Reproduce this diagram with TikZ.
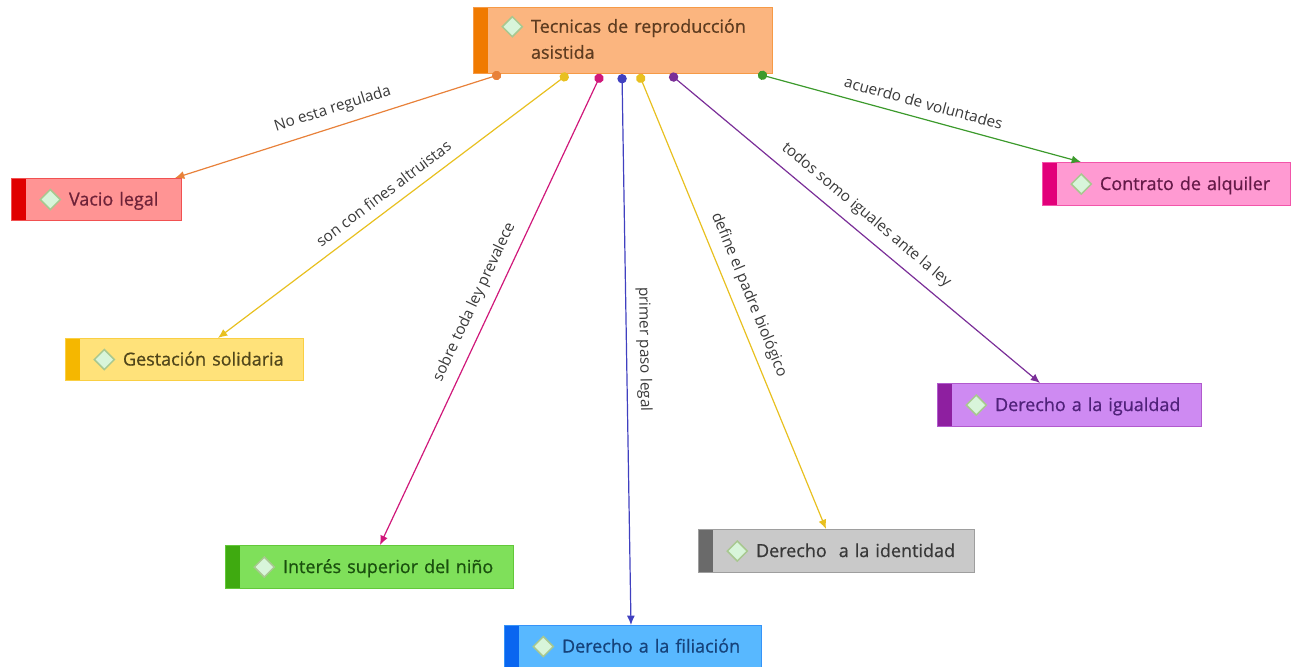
\documentclass[tikz,border=0pt]{standalone}
\usepackage{fontspec}
\setmainfont{Open Sans}
\newfontfamily\semifont[FakeBold=0.7]{Open Sans}
\usetikzlibrary{arrows.meta}

\definecolor{topFill}{HTML}{FBB57F}\definecolor{topBar}{HTML}{F07A00}\definecolor{topText}{HTML}{5E3C20}
\definecolor{vacFill}{HTML}{FF9494}\definecolor{vacBar}{HTML}{E00000}\definecolor{vacText}{HTML}{6E2238}
\definecolor{conFill}{HTML}{FF9AD2}\definecolor{conBar}{HTML}{E2007A}\definecolor{conText}{HTML}{641A48}
\definecolor{gesFill}{HTML}{FFE27A}\definecolor{gesBar}{HTML}{F5B700}\definecolor{gesText}{HTML}{50461A}
\definecolor{iguFill}{HTML}{CE8AF2}\definecolor{iguBar}{HTML}{8E1FA0}\definecolor{iguText}{HTML}{50227A}
\definecolor{intFill}{HTML}{7FE05A}\definecolor{intBar}{HTML}{3FAA10}\definecolor{intText}{HTML}{1A500E}
\definecolor{filFill}{HTML}{58B8FF}\definecolor{filBar}{HTML}{0A66F0}\definecolor{filText}{HTML}{16427A}
\definecolor{ideFill}{HTML}{C9C9C9}\definecolor{ideBar}{HTML}{6A6A6A}\definecolor{ideText}{HTML}{383838}
\definecolor{icoFill}{HTML}{D8F5DA}\definecolor{icoLine}{HTML}{A8C890}
\definecolor{lblText}{HTML}{3A3A3A}
\definecolor{orLine}{HTML}{E8813A}\definecolor{goLine}{HTML}{E8C020}
\definecolor{maLine}{HTML}{D0187A}\definecolor{blLine}{HTML}{4040C0}
\definecolor{puLine}{HTML}{7A2E98}\definecolor{grLine}{HTML}{3C9A2C}

\newcommand\ico{\tikz[baseline=-4.5pt]\draw[draw=icoLine,fill=icoFill,line width=1.1pt]
  (0pt,7.5pt)--(7.5pt,0pt)--(0pt,-7.5pt)--(-7.5pt,0pt)--cycle;}
\newcommand\cpt[1]{\hspace*{21pt}\ico\hspace{6pt}#1}

\tikzset{
  concept/.style={anchor=north west, inner sep=0pt, align=left,
    fill=#1Fill, draw=#1Bar!45!#1Fill, text=#1Text, line width=0.8pt,
    font=\semifont\fontsize{13.5}{19.5}\selectfont,
    path picture={\fill[#1Bar] (path picture bounding box.north west)
      rectangle ([xshift=11pt]path picture bounding box.south west);}},
  link/.style={draw=#1, line width=0.9pt, {Circle[length=7pt]}-{Latex[length=7pt,width=6pt]}},
  lbl/.style={sloped, above=6pt, inner sep=1pt, text=lblText,
    font=\fontsize{11.5}{13}\selectfont}
}

\begin{document}
\begin{tikzpicture}[x=0.75pt,y=-0.75pt]
  \useasboundingbox (0,0) rectangle (1300,667);
  \node[concept=top, text width=224.25pt, minimum height=49.5pt] (tra) at (473,7)
    {\cpt{\begin{tabular}[t]{@{}l@{}}Tecnicas de reproducción\\asistida\end{tabular}}};
  \node[concept=vac, text width=127.5pt, minimum height=31.5pt] (vac) at (11,178) {\cpt{Vacio legal}};
  \node[concept=con, text width=186pt, minimum height=32.25pt] (con) at (1042,162) {\cpt{Contrato de alquiler}};
  \node[concept=ges, text width=178.5pt, minimum height=31.5pt] (ges) at (65,338) {\cpt{Gestación solidaria}};
  \node[concept=igu, text width=198pt, minimum height=32.25pt] (igu) at (937,383) {\cpt{Derecho a la igualdad}};
  \node[concept=int, text width=216pt, minimum height=32.25pt] (int) at (225,545) {\cpt{Interés superior del niño}};
  \node[concept=fil, text width=192.75pt, minimum height=31.5pt] (fil) at (504,625) {\cpt{Derecho a la filiación}};
  \node[concept=ide, text width=207pt, minimum height=32.25pt] (ide) at (698,529) {\cpt{Derecho\ \ a la identidad}};

  % start points on the lower edge of the main concept
  \coordinate (sVac) at ([xshift=21pt]tra.south west);
  \coordinate (sGes) at ([xshift=71.25pt]tra.south west);
  \coordinate (sInt) at ([xshift=96pt]tra.south west);
  \coordinate (sFil) at ([xshift=111.75pt]tra.south west);
  \coordinate (sIde) at ([xshift=124.5pt]tra.south west);
  \coordinate (sIgu) at ([xshift=147.75pt]tra.south west);
  \coordinate (sCon) at ([xshift=213.75pt]tra.south west);

  \path (sVac) edge[link=orLine] node[lbl] {No esta regulada} ([xshift=123pt]vac.north west)
    (sGes) edge[link=goLine] node[lbl] {son con fines altruistas} ([xshift=114.75pt]ges.north west)
    (sInt) edge[link=maLine] node[lbl] {sobre toda ley prevalece} ([xshift=116.25pt]int.north west)
    (sFil) edge[link=blLine] node[lbl] {primer paso legal} ([xshift=95.25pt]fil.north west)
    (sIde) edge[link=goLine] node[lbl] {define el padre biológico} ([xshift=96pt]ide.north west)
    (sIgu) edge[link=puLine] node[lbl] {todos somo iguales ante la ley} ([xshift=77.25pt]igu.north west)
    (sCon) edge[link=grLine] node[lbl] {acuerdo de voluntades} ([xshift=29.25pt]con.north west);
\end{tikzpicture}
\end{document}
